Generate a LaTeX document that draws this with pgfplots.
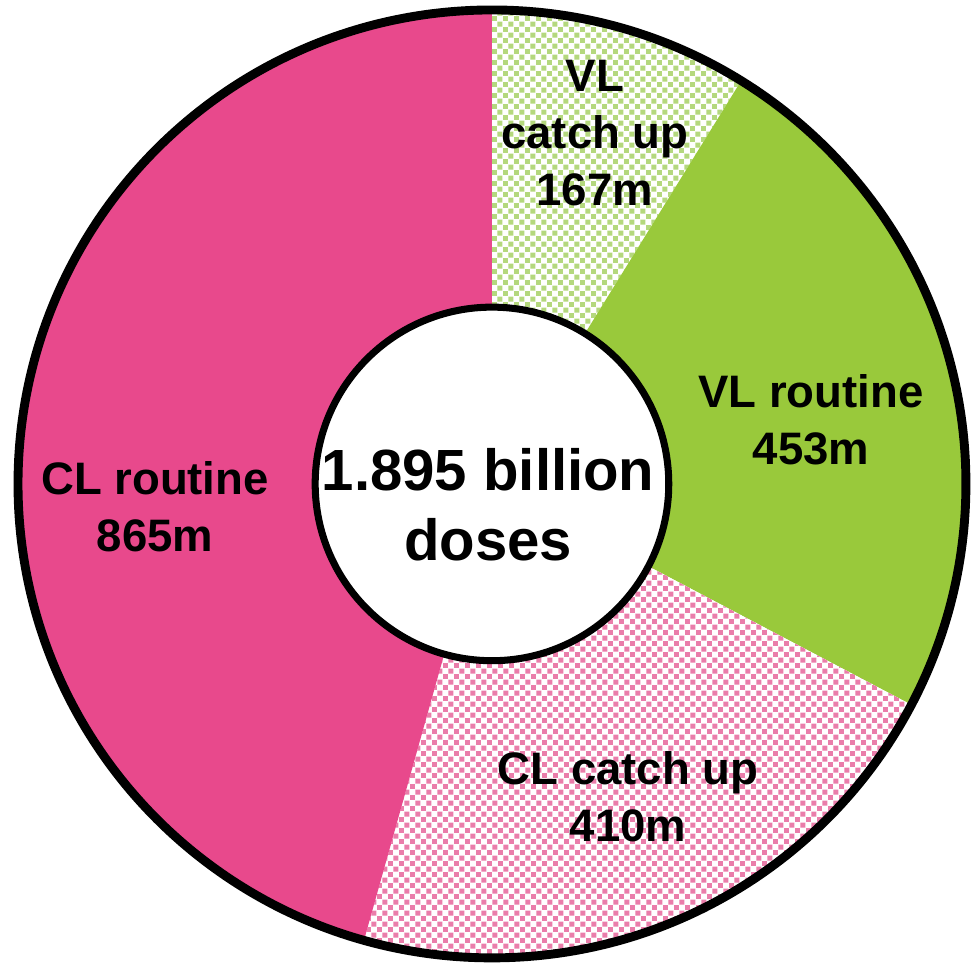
\documentclass[border=0pt]{standalone}
\usepackage{fontspec}
\setmainfont{Liberation Sans}
\usepackage{pgfplots}
\usepackage{pgfplotstable}
\pgfplotsset{compat=1.18}
\usetikzlibrary{patterns}

\definecolor{clroutine}{RGB}{232,73,140}
\definecolor{vlroutine}{RGB}{153,201,59}
\definecolor{clpat}{RGB}{234,125,170}
\definecolor{vlpat}{RGB}{180,216,125}

% small checker dots, coloured by pattern color
\pgfdeclarepatternformonly{checkdots}{\pgfpointorigin}{\pgfpoint{3.1pt}{3.1pt}}{\pgfpoint{3.1pt}{3.1pt}}{
  \pgfpathrectangle{\pgfpoint{0pt}{0pt}}{\pgfpoint{1.35pt}{1.35pt}}
  \pgfpathrectangle{\pgfpoint{1.55pt}{1.55pt}}{\pgfpoint{1.35pt}{1.35pt}}
  \pgfusepath{fill}
}
\tikzset{lbl/.style={align=center, font=\bfseries\fontsize{12.3}{15.4}\selectfont}}

% doses in millions, clockwise from 12 o'clock
\pgfplotstableread{
part        doses
VLcatchup   167
VLroutine   453
CLcatchup   410
CLroutine   865
}\dosetable

\begin{document}
\begin{tikzpicture}
\pgfplotstablegetelem{0}{doses}\of\dosetable \let\vA\pgfplotsretval
\pgfplotstablegetelem{1}{doses}\of\dosetable \let\vB\pgfplotsretval
\pgfplotstablegetelem{2}{doses}\of\dosetable \let\vC\pgfplotsretval
\pgfplotstablegetelem{3}{doses}\of\dosetable \let\vD\pgfplotsretval
\pgfmathsetmacro\tot{\vA+\vB+\vC+\vD}
\pgfmathsetmacro\aA{90-\vA/\tot*360}
\pgfmathsetmacro\aB{\aA-\vB/\tot*360}
\pgfmathsetmacro\aC{\aB-\vC/\tot*360}
\pgfmathsetmacro\aD{\aC-\vD/\tot*360}
\def\R{4.5cm}
\begin{axis}[
    hide axis,
    x=4.5cm, y=4.5cm,
    xmin=-1.038, xmax=1.017,
    ymin=-1.013, ymax=1.021,
    clip=false,
]
\addplot[draw=none, mark=none] coordinates {(0,0)};

% ring slices
\fill[white] (axis cs:0,0) -- ++(90:\R) arc[start angle=90, end angle=\aA, radius=\R] -- cycle;
\fill[pattern=checkdots, pattern color=vlpat] (axis cs:0,0) -- ++(90:\R) arc[start angle=90, end angle=\aA, radius=\R] -- cycle;
\fill[vlroutine] (axis cs:0,0) -- ++(\aA:\R) arc[start angle=\aA, end angle=\aB, radius=\R] -- cycle;
\fill[white] (axis cs:0,0) -- ++(\aB:\R) arc[start angle=\aB, end angle=\aC, radius=\R] -- cycle;
\fill[pattern=checkdots, pattern color=clpat] (axis cs:0,0) -- ++(\aB:\R) arc[start angle=\aB, end angle=\aC, radius=\R] -- cycle;
\fill[clroutine] (axis cs:0,0) -- ++(\aC:\R) arc[start angle=\aC, end angle=\aD, radius=\R] -- cycle;

% outlines and hole
\draw[line width=2.4pt] (axis cs:0,0) circle[radius=\R];
\draw[line width=1.9pt, fill=white] (axis cs:0,0) circle[radius=0.373*\R];

% labels
\node[lbl] at (axis cs:0.217,0.741) {VL\\catch up\\167m};
\node[lbl] at (axis cs:0.673,0.135) {VL routine\\453m};
\node[lbl] at (axis cs:0.287,-0.660) {CL catch up\\410m};
\node[lbl] at (axis cs:-0.711,-0.049) {CL routine\\865m};
\node[align=center, font=\bfseries\fontsize{15.7}{18.9}\selectfont] at (axis cs:-0.008,-0.044) {1.895 billion\\doses};

\coordinate (bl) at (axis cs:-1.038,-1.013);
\coordinate (tr) at (axis cs:1.017,1.021);
\end{axis}
\pgfresetboundingbox
\useasboundingbox (bl) rectangle (tr);
\end{tikzpicture}
\end{document}
